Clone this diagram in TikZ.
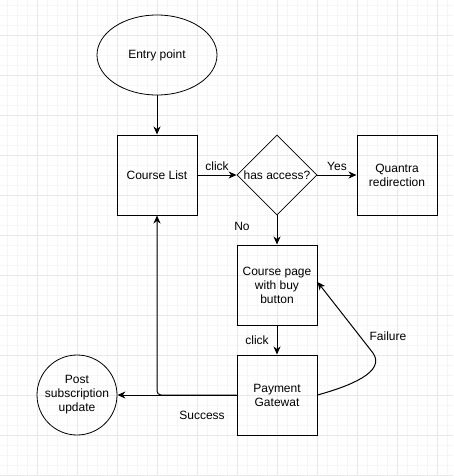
\documentclass[tikz,border=0pt]{standalone}
\usepackage{fontspec}
\setmainfont{Liberation Sans}
\usetikzlibrary{arrows.meta,shapes.geometric}
\begin{document}
\begin{tikzpicture}[x=1pt,y=-1pt,
  every node/.style={font=\fontsize{12}{14}\selectfont, text=black, align=center},
  boxnode/.style={draw, line width=1pt, minimum width=80pt, minimum height=80pt, inner sep=0pt},
  decision/.style={draw, line width=0.8pt, diamond, minimum width=80pt, minimum height=80pt, inner sep=0pt, aspect=1},
  startnode/.style={draw, line width=0.8pt, ellipse, minimum width=120pt, minimum height=80pt, inner sep=0pt},
  endnode/.style={draw, line width=0.8pt, circle, minimum size=80pt, inner sep=0pt},
  arr/.style={draw, line width=1pt, -{Stealth[length=8pt,width=7pt,inset=2.5pt]}},
  lbl/.style={inner sep=0pt}
]
% background grid
\useasboundingbox (0,0) rectangle (453,476);
\fill[white] (0,0) rectangle (453,476);
\foreach \x in {7,17,...,447} \draw[line width=0.8pt, black!3.5] (\x,0) -- (\x,476);
\foreach \y in {5,15,...,475} \draw[line width=0.8pt, black!3.5] (0,\y) -- (453,\y);
\foreach \x in {37,77,...,437} \draw[line width=0.8pt, black!9] (\x,0) -- (\x,476);
\foreach \y in {35,75,...,475} \draw[line width=0.8pt, black!9] (0,\y) -- (453,\y);

% nodes
\node[startnode] (entry) at (157,55) {Entry point};
\node[boxnode] (list) at (157,175) {Course List};
\node[decision] (access) at (277,175) {has access?};
\node[boxnode] (quantra) at (397,175) {Quantra\\redirection};
\node[boxnode] (page) at (277,285) {Course page\\with buy\\button};
\node[boxnode] (pay) at (277,395) {Payment\\Gatewat};
\node[endnode] (post) at (77,395) {Post\\subscription\\update};

% connectors
\draw[arr] (entry.south) -- (list.north);
\draw[arr] (list.east) -- (access.west);
\draw[arr] (access.east) -- (quantra.west);
\draw[arr] (access.south) -- (page.north);
\draw[arr] (page.south) -- (pay.north);
\draw[arr] (pay.west) -- (post.east);
\draw[arr, rounded corners=4pt] (pay.west) -| (list.south);
\coordinate (bend) at (373,353);
\draw[arr] (pay.east) .. controls (350,386) and (386,372) .. (bend) -- ([yshift=3pt]page.east);

% labels
\node[lbl] (lclick) at (217,166) {click};
\node[lbl] (lyes) at (337,166) {Yes};
\node[lbl] (lno) at (242,226) {No};
\node[lbl] (lclick2) at (257,340) {click};
\node[lbl] (lsucc) at (202,415) {Success};
\node[lbl] (lfail) at (388,336) {Failure};
\end{tikzpicture}
\end{document}
